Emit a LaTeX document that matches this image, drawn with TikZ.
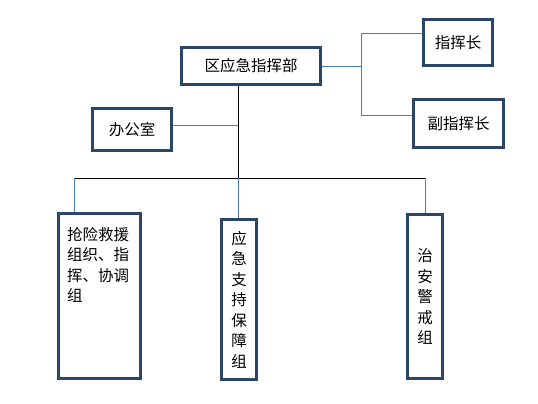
\documentclass[tikz,border=0pt]{standalone}
\usepackage{fontspec}
\setmainfont{Noto Sans CJK SC}
\usetikzlibrary{positioning}
\definecolor{boxblue}{HTML}{2A4668}
\definecolor{linkblue}{HTML}{4A7EBB}
\tikzset{font=\fontsize{15.5}{20.5}\selectfont}
\tikzset{box/.style={draw=boxblue, line width=3pt, inner sep=0pt, align=center}}
\tikzset{link/.style={draw=linkblue, line width=0.9pt}}
\tikzset{trunk/.style={draw=black, line width=0.9pt}}

\begin{document}
\begin{tikzpicture}[x=1pt,y=-1pt]
  \useasboundingbox (0,0) rectangle (538,404);
  % top level
  \node[box, minimum width=139pt, minimum height=37pt] (hq) at (251,66) {区应急指挥部};
  \node[box, minimum width=69pt, minimum height=46pt] (chief) at (458,42.5) {指挥长};
  \node[box, minimum width=90pt, minimum height=48pt] (deputy) at (458.5,123.5) {副指挥长};
  \node[box, minimum width=79pt, minimum height=42pt] (office) at (132,129.5) {办公室};
  % groups
  \node[box, minimum width=82pt, minimum height=165pt] (grpa) at (99.5,296) {};
  \node[anchor=north west, inner sep=0pt, align=left] (grpatext) at (67,227)
    {抢险救援\\组织、指\\挥、协调\\组};
  \node[box, minimum width=35pt, minimum height=160pt] (grpb) at (239,299.5)
    {应\\急\\支\\持\\保\\障\\组};
  \node[box, minimum width=35pt, minimum height=164pt] (grpc) at (425,296.5)
    {治\\安\\警\\戒\\组};
  % connectors
  \coordinate (fork) at (361,66);
  \coordinate (chieftap) at (361,33);
  \coordinate (deputytap) at (361,115);
  \draw[link] (hq.east) -- (fork);
  \draw[link] (chieftap) -- (deputytap);
  \draw[link] (chieftap) -- (chieftap -| chief.west);
  \draw[link] (deputytap) -- (deputytap -| deputy.west);
  \coordinate (officetap) at (238,125);
  \coordinate (busmid) at (238,178);
  \coordinate (busleft) at (74,178);
  \coordinate (busright) at (425,178);
  \draw[trunk] (busmid |- hq.south) -- (busmid);
  \draw[link] (officetap -| office.east) -- (officetap);
  \draw[trunk] (busleft) -- (busright);
  \draw[link] (busleft) -- (busleft |- grpa.north);
  \draw[link] (busmid) -- (busmid |- grpb.north);
  \draw[link] (busright) -- (busright |- grpc.north);
\end{tikzpicture}
\end{document}
